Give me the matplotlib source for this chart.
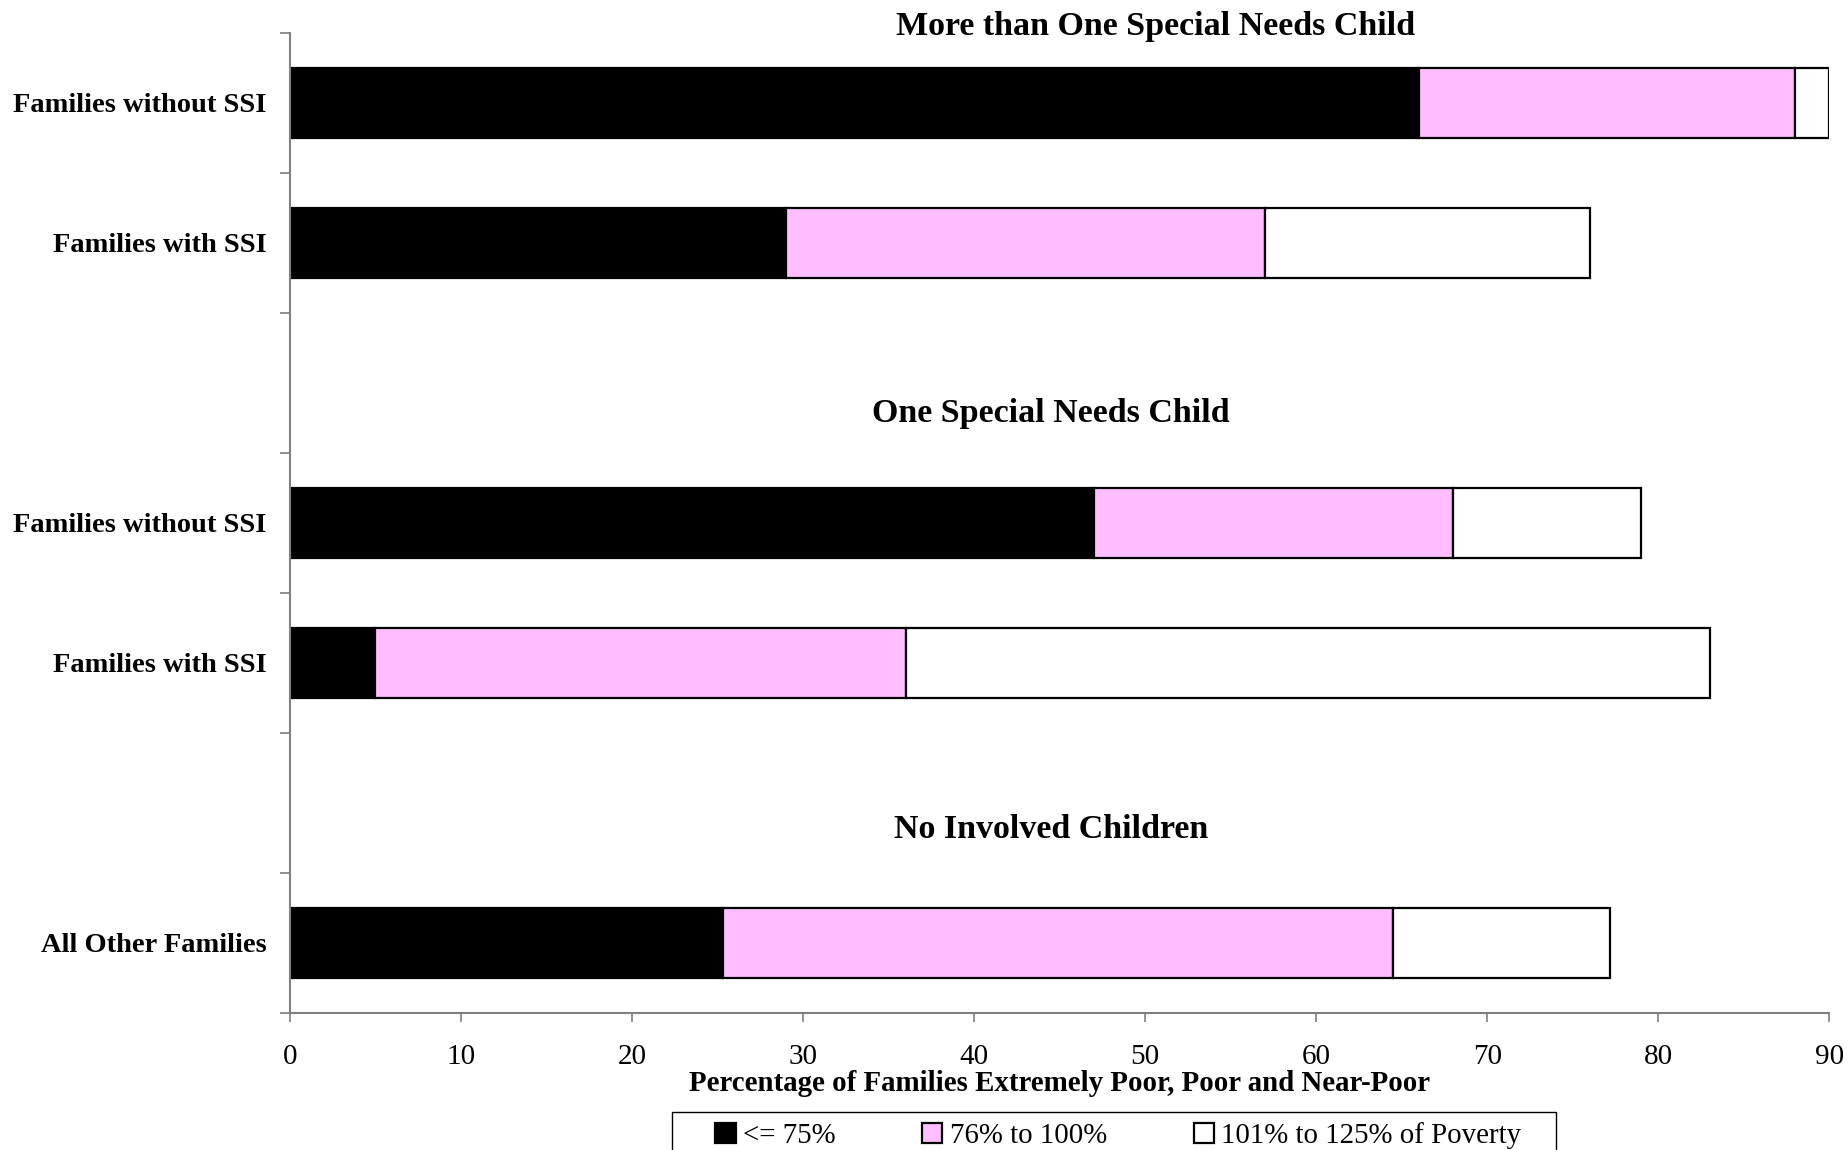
import matplotlib.pyplot as plt
import numpy as np
from matplotlib.patches import Rectangle

plt.rcParams['font.family'] = ['Liberation Serif', 'DejaVu Serif']

# categorias e valores (percentual de familias)
group_titles = ['More than One Special Needs Child', 'One Special Needs Child', 'No Involved Children']
row_labels = ['Families without SSI', 'Families with SSI',
              'Families without SSI', 'Families with SSI',
              'All Other Families']
row_group = [0, 0, 1, 1, 2]

under_75 = [66, 29, 47, 5, 25.3]
pct_76_100 = [22, 28, 21, 31, 39.2]
pct_101_125 = [2, 19, 11, 47, 12.7]

series_names = ['<= 75%', '76% to 100%', '101% to 125% of Poverty']
series_colors = ['black', '#FFBEFF', 'white']

# uma linha em branco entre os grupos
ypos = np.arange(len(row_labels)) + np.array(row_group)
n_slots = int(ypos.max()) + 1

fig = plt.figure(figsize=(18.49, 11.5), dpi=100)
ax = fig.add_axes([0.1568, 0.1194, 0.8326, 0.8519])

left = np.zeros(len(row_labels))
handles = []
for vals, name, col in zip([under_75, pct_76_100, pct_101_125], series_names, series_colors):
    b = ax.barh(ypos, vals, left=left, height=0.5, color=col,
                edgecolor='black', linewidth=1.6, label=name)
    handles.append(b)
    left = left + np.array(vals)

ax.set_xlim(0, 90)
ax.set_ylim(n_slots - 0.5, -0.5)

ax.set_xticks(np.arange(0, 91, 10))
ax.tick_params(axis='x', length=6.5, width=1.2, color='#808080', pad=16, labelsize=21)

# marcas nas divisas, rotulos no centro de cada linha
ax.set_yticks(np.arange(-0.5, n_slots, 1))
ax.set_yticklabels([])
ax.set_yticks(ypos, minor=True)
ax.set_yticklabels(row_labels, minor=True, fontsize=20.5, fontweight='bold')
ax.tick_params(axis='y', which='major', length=7.2, width=1.2, color='#808080')
ax.tick_params(axis='y', which='minor', length=0, pad=17)

for s in ['top', 'right']:
    ax.spines[s].set_visible(False)
for s in ['left', 'bottom']:
    ax.spines[s].set_color('#808080')
    ax.spines[s].set_linewidth(1.5)

# titulos dos grupos
title_pos = [(50.6, -0.55), (44.5, 2.22), (44.5, 5.19)]
for t, (tx, ty) in zip(group_titles, title_pos):
    ax.text(tx, ty, t, ha='center', va='center', fontsize=24.5, fontweight='bold')

ax.set_xlabel('Percentage of Families Extremely Poor, Poor and Near-Poor',
              fontsize=20.8, fontweight='bold', labelpad=0)

# legenda com moldura propria
fig.patches.append(Rectangle((672 / 1849, -0.05), (1556 - 672) / 1849, 0.05 + 1 - 1112 / 1150,
                             transform=fig.transFigure, fill=False,
                             edgecolor='black', linewidth=1.0))
fig.legend(handles=handles, loc='center left', bbox_to_anchor=(701 / 1849, 1 - 1136 / 1150),
           ncol=3, frameon=False, fontsize=20.8, borderpad=0, handlelength=0.7,
           handleheight=0.7, handletextpad=0.25, columnspacing=3.0)

fig.savefig('out.png', dpi=100)
